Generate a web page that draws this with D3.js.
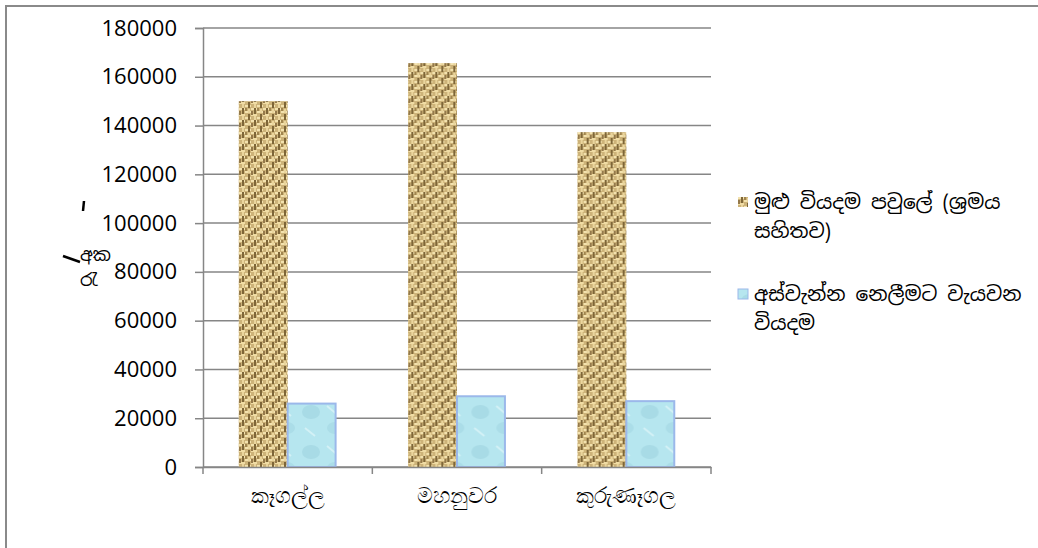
<!DOCTYPE html>
<html>
<head>
<meta charset="utf-8">
<script src="https://cdn.jsdelivr.net/npm/d3@7"></script>
<style>
  body { margin: 0; background: #fff; }
  .tick text { font-family: "Open Sans", sans-serif; }
</style>
</head>
<body>
<svg width="1038" height="548"></svg>
<script>
// data
var districts = ["කෑගල්ල", "මහනුවර", "කුරුණෑගල"];
var seriesNames = ["මුළු වියදම පවුලේ (ශ්‍රමය සහිතව)", "අස්වැන්න නෙලීමට වැයවන වියදම"];
var totalCost = [150000, 165600, 137300];
var harvestCost = [26000, 29000, 27000];
var yTicks = [0, 20000, 40000, 60000, 80000, 100000, 120000, 140000, 160000, 180000];

var svg = d3.select("svg");
var sinhala = "'Iskoola Pota', 'Noto Sans Sinhala', 'Noto Serif Sinhala', sans-serif";

// outer frame (only top and left are visible)
svg.append("path")
    .attr("d", "M6,548 L6,6 L1038,6")
    .attr("fill", "none")
    .attr("stroke", "#8a8a8a")
    .attr("stroke-width", 2);

// patterns for bars
var defs = svg.append("defs");
var burlap = defs.append("pattern")
    .attr("id", "burlap")
    .attr("patternUnits", "userSpaceOnUse")
    .attr("width", 12).attr("height", 12);
burlap.append("rect").attr("width", 12).attr("height", 12).attr("fill", "#cdb379");
// woven strands
[[0,0,6,2,"#f3e2ae"],[6,3,6,2,"#f3e2ae"],[0,6,6,2,"#f0dca4"],[6,9,6,2,"#f3e2ae"],
 [3,0,2,6,"#7e6638"],[9,6,2,6,"#7e6638"],[0,3,2,4,"#94794a"],[6,0,2,3,"#a0854f"],
 [3,8,2,4,"#ead59d"],[9,1,2,4,"#ead59d"]].forEach(function(r) {
    burlap.append("rect").attr("x", r[0]).attr("y", r[1])
        .attr("width", r[2]).attr("height", r[3]).attr("fill", r[4]);
});

var water = defs.append("pattern")
    .attr("id", "water")
    .attr("patternUnits", "userSpaceOnUse")
    .attr("width", 48).attr("height", 40);
water.append("rect").attr("width", 48).attr("height", 40).attr("fill", "#b6e6ef");
water.append("ellipse").attr("cx", 12).attr("cy", 12).attr("rx", 9).attr("ry", 7).attr("fill", "#a8dbe6");
water.append("ellipse").attr("cx", 36).attr("cy", 28).attr("rx", 8).attr("ry", 6).attr("fill", "#abdde8");
water.append("path").attr("d", "M28,6 L40,16").attr("stroke", "#d3f1f6").attr("stroke-width", 2);
water.append("path").attr("d", "M6,28 L16,36").attr("stroke", "#d3f1f6").attr("stroke-width", 2);

// scales
var plotLeft = 203, plotRight = 711, plotTop = 28, plotBottom = 467;

var y = d3.scaleLinear().domain([0, 180000]).range([plotBottom, plotTop]);
var x0 = d3.scaleBand().domain(districts).range([plotLeft, plotRight]).padding(0);
var x1 = d3.scaleBand().domain([0, 1]).range([0, x0.bandwidth()])
    .paddingInner(0).paddingOuter(0.73);

// gridlines
svg.append("g")
    .selectAll("line")
    .data(yTicks)
    .enter().append("line")
    .attr("x1", plotLeft).attr("x2", plotRight)
    .attr("y1", function(d) { return y(d); })
    .attr("y2", function(d) { return y(d); })
    .attr("stroke", "#868686")
    .attr("stroke-width", 1.5);

// y axis
var yAxis = svg.append("g")
    .attr("transform", "translate(" + plotLeft + ",0)")
    .call(d3.axisLeft(y).tickValues(yTicks).tickSize(8).tickPadding(18).tickFormat(d3.format("d")));
yAxis.select(".domain").attr("stroke", "#868686").attr("stroke-width", 1.5);
yAxis.selectAll(".tick line").attr("stroke", "#868686").attr("stroke-width", 1.5);
yAxis.selectAll(".tick text").attr("font-size", 22).attr("fill", "#000");

// bars
var groups = svg.append("g")
    .selectAll("g")
    .data(districts)
    .enter().append("g")
    .attr("transform", function(d) { return "translate(" + x0(d) + ",0)"; });

groups.append("rect")
    .attr("x", x1(0))
    .attr("width", x1.bandwidth())
    .attr("y", function(d, i) { return y(totalCost[i]); })
    .attr("height", function(d, i) { return y(0) - y(totalCost[i]); })
    .attr("fill", "url(#burlap)");

groups.append("rect")
    .attr("x", x1(1))
    .attr("width", x1.bandwidth() - 1)
    .attr("y", function(d, i) { return y(harvestCost[i]); })
    .attr("height", function(d, i) { return y(0) - y(harvestCost[i]); })
    .attr("fill", "url(#water)")
    .attr("stroke", "#9bb8ea")
    .attr("stroke-width", 2);

// x axis
var xAxis = svg.append("g")
    .attr("transform", "translate(0," + plotBottom + ")")
    .call(d3.axisBottom(x0).tickSize(0).tickPadding(20));
xAxis.select(".domain").attr("stroke", "#868686").attr("stroke-width", 1.5);
xAxis.selectAll(".tick text")
    .attr("font-family", sinhala)
    .attr("font-size", 22)
    .attr("fill", "#000");
// boundary ticks between categories
xAxis.selectAll(".sep")
    .data(d3.range(districts.length + 1))
    .enter().append("line")
    .attr("class", "sep")
    .attr("x1", function(i) { return plotLeft + i * x0.step(); })
    .attr("x2", function(i) { return plotLeft + i * x0.step(); })
    .attr("y1", 0).attr("y2", 7)
    .attr("stroke", "#868686").attr("stroke-width", 1.5);

// y axis title (appears broken up in the original)
svg.append("text").attr("x", 80).attr("y", 261)
    .attr("font-family", sinhala).attr("font-size", 18).text("අක");
svg.append("text").attr("x", 80).attr("y", 286)
    .attr("font-family", sinhala).attr("font-size", 18).text("රැ");
svg.append("line")
    .attr("x1", 63).attr("y1", 256).attr("x2", 80).attr("y2", 262)
    .attr("stroke", "#000").attr("stroke-width", 2.5);
svg.append("line")
    .attr("x1", 84).attr("y1", 201).attr("x2", 83).attr("y2", 211)
    .attr("stroke", "#000").attr("stroke-width", 2.5);

// legend
var legendLines = [["මුළු වියදම පවුලේ (ශ්‍රමය", "සහිතව)"], ["අස්වැන්න නෙලීමට වැයවන", "වියදම"]];
var legendFill = ["url(#burlap)", "url(#water)"];
var legend = svg.append("g")
    .selectAll("g")
    .data(seriesNames)
    .enter().append("g")
    .attr("transform", function(d, i) { return "translate(738," + (197 + i * 92) + ")"; });

legend.append("rect")
    .attr("width", 10).attr("height", 10)
    .attr("fill", function(d, i) { return legendFill[i]; })
    .attr("stroke", function(d, i) { return i == 1 ? "#9bb8ea" : "none"; });

legend.each(function(d, i) {
    var t = d3.select(this).append("text")
        .attr("font-family", sinhala)
        .attr("font-size", 20)
        .attr("fill", "#000");
    legendLines[i].forEach(function(line, k) {
        t.append("tspan").attr("x", 16).attr("y", 12 + k * 29).text(line);
    });
});
</script>
</body>
</html>
